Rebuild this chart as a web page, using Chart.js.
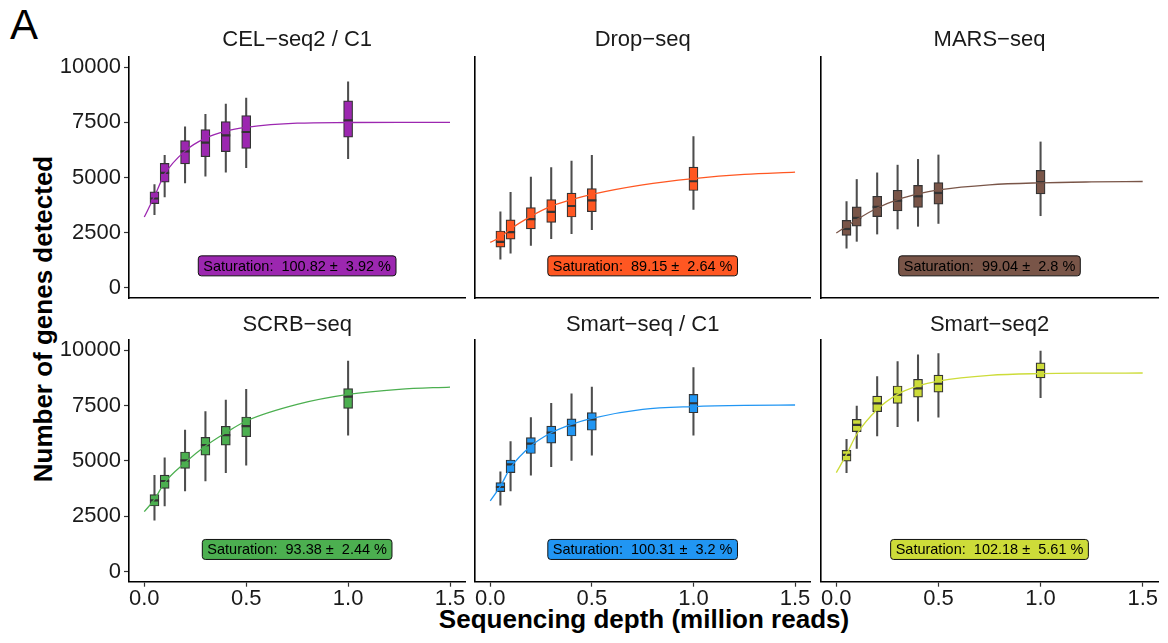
<!DOCTYPE html>
<html>
<head>
<meta charset="utf-8">
<script src="https://cdn.jsdelivr.net/npm/chart.js@4.4.1/dist/chart.umd.min.js"></script>
<style>
  body { margin: 0; background: #fff; }
  #wrap { position: relative; width: 1168px; height: 643px; overflow: hidden;
          font-family: 'Liberation Sans', Arial, sans-serif; }
  #wrap canvas { position: absolute; }
  .lbl { position: absolute; white-space: nowrap; line-height: 1; color: #000; }
  #ytitle { left: 43px; top: 319px; font-size: 26px; font-weight: bold;
            transform: translate(-50%, -50%) rotate(-90deg); }
  #xtitle { left: 644px; top: 606px; font-size: 26px; font-weight: bold;
            transform: translateX(-50%); }
</style>
</head>
<body>
<div id="wrap">
  <div class="lbl" style="left:10px;top:4px;font-size:42px;">A</div>
  <div class="lbl" id="ytitle">Number of genes detected</div>
  <div class="lbl" id="xtitle">Sequencing depth (million reads)</div>
</div>
<script>
// panels, one row per method in every table below
const methods = ['CEL\u2212seq2 / C1', 'Drop\u2212seq', 'MARS\u2212seq',
                 'SCRB\u2212seq', 'Smart\u2212seq / C1', 'Smart\u2212seq2'];
const colors = ['#9C27B0', '#FF5722', '#795548', '#4CAF50', '#2196F3', '#CDDC39'];
const saturation = [100.82, 89.15, 99.04, 93.38, 100.31, 102.18];
const satError = [3.92, 2.64, 2.8, 2.44, 3.2, 5.61];

const depths = [0.05, 0.1, 0.2, 0.3, 0.4, 0.5, 1.0];
const xTicks = [0, 0.5, 1, 1.5];
const yTicks = [0, 2500, 5000, 7500, 10000];

// boxplot stats (genes detected)
const whiskerLo = [
  [3320, 4120, 4760, 5060, 5240, 5440, 5850],
  [1300, 1580, 1920, 2230, 2460, 2640, 3550],
  [1800, 2110, 2440, 2670, 2790, 2920, 3270],
  [2320, 2960, 3640, 4090, 4470, 4800, 6160],
  [3000, 3640, 4350, 4740, 5020, 5260, 6160],
  [4470, 5560, 6120, 6540, 6790, 6970, 7850]
];
const q1 = [
  [3820, 4790, 5620, 5940, 6170, 6320, 6830],
  [1850, 2210, 2670, 2970, 3210, 3450, 4410],
  [2380, 2800, 3230, 3490, 3650, 3790, 4260],
  [2960, 3760, 4660, 5260, 5710, 6090, 7370],
  [3610, 4470, 5330, 5800, 6120, 6380, 7170],
  [4990, 6320, 7220, 7590, 7880, 8100, 8740]
];
const median = [
  [4050, 5210, 6180, 6580, 6910, 7060, 7590],
  [2090, 2530, 3120, 3440, 3710, 3960, 4830],
  [2670, 3170, 3670, 3950, 4150, 4300, 4790],
  [3220, 4090, 5020, 5710, 6160, 6570, 7900],
  [3820, 4840, 5780, 6270, 6600, 6870, 7600],
  [5270, 6620, 7590, 7990, 8270, 8480, 9100]
];
const q3 = [
  [4350, 5640, 6670, 7170, 7530, 7800, 8470],
  [2580, 3080, 3640, 4000, 4290, 4500, 5470],
  [3060, 3670, 4150, 4420, 4640, 4770, 5320],
  [3480, 4360, 5400, 6060, 6560, 6980, 8260],
  [4020, 5040, 6050, 6570, 6900, 7180, 8000],
  [5470, 6870, 7920, 8380, 8680, 8870, 9420]
];
const whiskerHi = [
  [4680, 6000, 7290, 7860, 8320, 8590, 9330],
  [3450, 4330, 5020, 5450, 5740, 6000, 6850],
  [3910, 4910, 5210, 5560, 5820, 6020, 6610],
  [4350, 5140, 6390, 7220, 7740, 8230, 9500],
  [4510, 5870, 6950, 7600, 8030, 8330, 9210],
  [5970, 7470, 8800, 9480, 9790, 9840, 9960]
];

// fitted saturation curves
const curveX = [0, 0.05, 0.1, 0.2, 0.3, 0.4, 0.5, 0.75, 1.0, 1.25, 1.5];
const curves = [
  [3210, 4150, 5150, 6200, 6780, 7100, 7270, 7460, 7490, 7500, 7500],
  [2060, 2300, 2670, 3240, 3700, 4000, 4240, 4670, 4950, 5140, 5240],
  [2490, 2790, 3090, 3620, 4000, 4260, 4440, 4670, 4760, 4800, 4820],
  [2710, 3260, 4020, 4920, 5670, 6270, 6800, 7550, 8000, 8230, 8330],
  [3190, 3860, 4690, 5670, 6270, 6650, 6920, 7320, 7450, 7505, 7520],
  [4470, 5290, 6200, 7320, 8000, 8380, 8600, 8860, 8940, 8960, 8965]
];
const labelX = 0.75, labelY = 1000;

// panel geometry
const colLeft = [50, 460, 806];
const colWidth = [422, 357, 362];
const yAxisW = [79, 15, 15];
const padRight = [5, 4, 10];
const rowTop = [0, 305];
const canvasH = 330;

const FONT = "'Liberation Sans', Arial, sans-serif";
Chart.defaults.font.family = FONT;

const satLabel = {
  id: 'satLabel',
  afterDatasetsDraw(chart, args, opts) {
    const {ctx, scales: {x, y}} = chart;
    const txt = 'Saturation:  ' + opts.value + ' \u00b1  ' + opts.err + ' %';
    ctx.save();
    ctx.font = '14.5px ' + FONT;
    const w = ctx.measureText(txt).width + 10, h = 20;
    const cx = x.getPixelForValue(labelX), cy = y.getPixelForValue(labelY);
    ctx.beginPath();
    ctx.roundRect(cx - w / 2, cy - h / 2, w, h, 3);
    ctx.fillStyle = opts.color;
    ctx.fill();
    ctx.lineWidth = 1;
    ctx.strokeStyle = '#111';
    ctx.stroke();
    ctx.fillStyle = '#000';
    ctx.textAlign = 'center';
    ctx.textBaseline = 'middle';
    ctx.fillText(txt, cx, cy + 1);
    ctx.restore();
  }
};

const wrap = document.getElementById('wrap');

methods.forEach((name, i) => {
  const row = Math.floor(i / 3), col = i % 3;
  const cv = document.createElement('canvas');
  cv.width = colWidth[col];
  cv.height = canvasH;
  cv.style.left = colLeft[col] + 'px';
  cv.style.top = rowTop[row] + 'px';
  wrap.appendChild(cv);

  new Chart(cv, {
    type: 'bar',
    data: {
      datasets: [
        {
          type: 'line',
          data: curveX.map((x, j) => ({x: x, y: curves[i][j]})),
          borderColor: colors[i],
          borderWidth: 1.3,
          pointRadius: 0,
          cubicInterpolationMode: 'monotone',
          order: 0
        },
        {
          type: 'scatter',
          data: depths.map((x, j) => ({x: x, y: median[i][j]})),
          pointStyle: 'line',
          pointRadius: 4.5,
          pointHoverRadius: 4.5,
          pointBorderWidth: 2.2,
          pointBorderColor: '#333',
          order: 1
        },
        {
          type: 'bar',
          data: depths.map((x, j) => ({x: x, y: [q1[i][j], q3[i][j]]})),
          backgroundColor: colors[i],
          borderColor: '#333',
          borderWidth: 1.2,
          borderSkipped: false,
          barThickness: 9,
          grouped: false,
          order: 2
        },
        {
          type: 'bar',
          data: depths.map((x, j) => ({x: x, y: [whiskerLo[i][j], whiskerHi[i][j]]})),
          backgroundColor: '#4d4d4d',
          borderWidth: 0,
          barThickness: 1.4,
          grouped: false,
          order: 3
        }
      ]
    },
    options: {
      responsive: false,
      animation: false,
      events: [],
      layout: {
        padding: {left: 0, right: padRight[col], top: row ? 6.8 : 26.8, bottom: row ? 30 : 32}
      },
      plugins: {
        legend: {display: false},
        tooltip: {enabled: false},
        title: {
          display: true,
          text: name,
          fullSize: false,
          color: '#1a1a1a',
          font: {size: 22, weight: 'normal', lineHeight: 1.2},
          padding: {top: 0, bottom: row ? 1.8 : 3.8}
        },
        satLabel: {value: saturation[i], err: satError[i], color: colors[i]}
      },
      scales: {
        x: {
          type: 'linear',
          min: -0.075,
          max: 1.575,
          offset: false,
          afterBuildTicks: s => { s.ticks = xTicks.map(v => ({value: v})); },
          afterFit: s => { s.height = row ? 23.3 : 0; },
          grid: {display: row === 1, offset: false, drawOnChartArea: false, drawTicks: true,
                 tickLength: 5, tickWidth: 1.2, tickColor: '#333'},
          border: {display: true, color: '#000', width: 1.6},
          ticks: {display: row === 1, color: '#1a1a1a', font: {size: 22, lineHeight: 1},
                  padding: 1, maxRotation: 0, autoSkip: false,
                  callback: v => Number(v).toFixed(1)}
        },
        y: {
          type: 'linear',
          min: -455,
          max: 10455,
          afterBuildTicks: s => { s.ticks = yTicks.map(v => ({value: v})); },
          afterFit: s => { s.width = yAxisW[col]; },
          grid: {display: col === 0, drawOnChartArea: false, drawTicks: true,
                 tickLength: 5, tickWidth: 1.2, tickColor: '#333'},
          border: {display: true, color: '#000', width: 1.6},
          ticks: {display: col === 0, color: '#1a1a1a', font: {size: 22, lineHeight: 1},
                  padding: 3, autoSkip: false, callback: v => String(v)}
        }
      }
    },
    plugins: [satLabel]
  });
});
</script>
</body>
</html>
